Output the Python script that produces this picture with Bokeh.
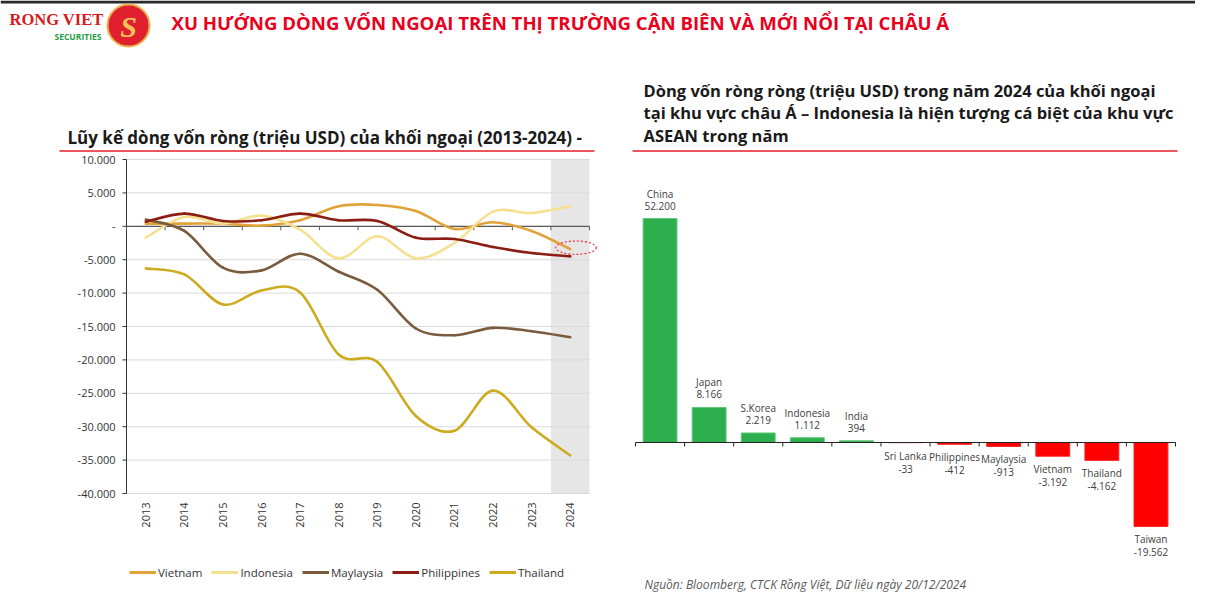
import math
from bokeh.plotting import figure
from bokeh.models import (Range1d, Legend, LegendItem, ColumnDataSource)
from bokeh.core.properties import value
from bokeh.embed import file_html
from bokeh.resources import INLINE

# ---------------- data ----------------
years = ["2013", "2014", "2015", "2016", "2017", "2018", "2019", "2020",
         "2021", "2022", "2023", "2024"]
vietnam = [400, 400, 400, 100, 900, 3000, 3200, 2300, -400, 600, -700, -3400]
indonesia = [-1700, 1400, 400, 1600, -500, -4800, -1500, -4800, -2500, 2200, 2000, 3000]
malaysia = [1000, -700, -6200, -6600, -4100, -6800, -9500, -15300, -16300, -15200, -15700, -16600]
philippines = [700, 1900, 800, 900, 1900, 900, 800, -1700, -1900, -3100, -4000, -4500]
thailand = [-6300, -7200, -11700, -9600, -9900, -19200, -20300, -28400, -30600, -24600, -30100, -34300]
series_names = ["Vietnam", "Indonesia", "Maylaysia", "Philippines", "Thailand"]
series_colors = ["#E2A23A", "#F4E08F", "#7B5B3D", "#8C1D12", "#CDAB1E"]
y_ticks = [10000, 5000, 0, -5000, -10000, -15000, -20000, -25000, -30000, -35000, -40000]

countries = ["China", "Japan", "S.Korea", "Indonesia", "India", "Sri Lanka",
             "Philippines", "Maylaysia", "Vietnam", "Thailand", "Taiwan"]
flows_2024 = [52200, 8166, 2219, 1112, 394, -33, -412, -913, -3192, -4162, -19562]

FONT = "Open Sans"

# ---------------- page geometry ----------------
OX, OY = 1, 1          # page position of the canvas
W, H = 1195, 592


def fmt(v):
    v = int(round(v))
    if v == 0:
        return "-"
    s = f"{abs(v):,}".replace(",", ".")
    return ("-" if v < 0 else "") + s


def smooth_bezier(ys):
    n = len(ys)
    xs = list(range(n))
    d = dict(x0=[], y0=[], x1=[], y1=[], cx0=[], cy0=[], cx1=[], cy1=[])
    for i in range(n - 1):
        ip = max(i - 1, 0)
        i2 = min(i + 2, n - 1)
        d["x0"].append(xs[i]); d["y0"].append(ys[i])
        d["x1"].append(xs[i + 1]); d["y1"].append(ys[i + 1])
        d["cx0"].append(xs[i] + (xs[i + 1] - xs[ip]) / 6)
        d["cy0"].append(ys[i] + (ys[i + 1] - ys[ip]) / 6)
        d["cx1"].append(xs[i + 1] - (xs[i2] - xs[i]) / 6)
        d["cy1"].append(ys[i + 1] - (ys[i2] - ys[i]) / 6)
    return d


def axis_range(p0, v0, p1, v1, lo, hi):
    """Range whose values map page pixel p0->v0 and p1->v1 across the canvas."""
    f = lambda p: v0 + (p - p0) * (v1 - v0) / (p1 - p0)
    a, b = f(lo), f(hi)
    return Range1d(min(a, b), max(a, b)), abs(p1 - p0) / abs(v1 - v0)


n = len(years)
m = len(countries)
lx, lx_ppu = axis_range(127, -0.5, 590, n - 0.5, OX, OX + W)
ly, ly_ppu = axis_range(160, max(y_ticks), 494, min(y_ticks), OY, OY + H)
rx, rx_ppu = axis_range(636, -0.5, 1176, m - 0.5, OX, OX + W)
ry, ry_ppu = axis_range(443, 0, 219, max(flows_2024), OY, OY + H)

p = figure(width=W, height=H, x_range=Range1d(OX, OX + W), y_range=Range1d(OY + H, OY),
           toolbar_location=None, output_backend="svg",
           x_axis_location=None, y_axis_location=None,
           min_border=0, outline_line_color=None)
p.grid.visible = False
p.extra_x_ranges = {"lx": lx, "rx": rx}
p.extra_y_ranges = {"ly": ly, "ry": ry}
L = dict(x_range_name="lx", y_range_name="ly")
R = dict(x_range_name="rx", y_range_name="ry")

# ---------------- header ----------------
p.segment(x0=[OX], y0=[2.5], x1=[OX + W], y1=[2.5], line_color="#2B2B2B", line_width=3)
p.text(x=[10], y=[20], text=["RONG VIET"], text_font=value("Liberation Serif"),
       text_font_style="bold", text_font_size="16.5px", text_color="#D71920",
       text_baseline="alphabetic")
p.text(x=[55], y=[37], text=["SECURITIES"], text_font=value(FONT),
       text_font_style="bold", text_font_size="8.5px", text_color="#1FA048",
       text_baseline="alphabetic")
p.scatter(x=[129], y=[26], size=42, marker="circle", fill_color="#E0202E",
          line_color="#E9B24E", line_width=2)
p.text(x=[129], y=[27], text=["S"], text_font=value("Liberation Serif"),
       text_font_style="bold italic", text_font_size="30px", text_color="#F2C45A",
       text_align="center", text_baseline="middle")
p.text(x=[172], y=[23],
       text=["XU HƯỚNG DÒNG VỐN NGOẠI TRÊN THỊ TRƯỜNG CẬN BIÊN VÀ MỚI NỔI TẠI CHÂU Á"],
       text_font=value(FONT), text_font_style="bold",
       text_font_size="18.6px", text_color="#E8001C", text_baseline="alphabetic")

# ---------------- titles ----------------
p.text(x=[68], y=[138],
       text=["Lũy kế dòng vốn ròng (triệu USD)  của khối ngoại (2013-2024) -"],
       text_font=value(FONT), text_font_style="bold", text_font_size="17px",
       text_color="#1A1A1A", text_baseline="alphabetic")
p.text(x=[644, 644, 644], y=[91, 113, 136],
       text=["Dòng vốn ròng ròng (triệu USD)  trong năm 2024 của khối ngoại",
             "tại khu vực châu Á – Indonesia là hiện tượng cá biệt của khu vực",
             "ASEAN trong năm"],
       text_font=value(FONT), text_font_style="bold", text_font_size="16.5px",
       text_color="#1A1A1A", text_baseline="alphabetic")
p.segment(x0=[60, 633], y0=[151.5, 151.5], x1=[595, 1178], y1=[151.5, 151.5],
          line_color="#E31E24", line_width=1.5)

# ---------------- left line chart ----------------
ytop, ybot = max(y_ticks), min(y_ticks)
p.quad(left=[n - 1.5], right=[n - 0.5], top=[ytop], bottom=[ybot],
       fill_color="#E6E6E6", line_color=None, **L)
p.segment(x0=[-0.5] * len(y_ticks), y0=y_ticks, x1=[n - 0.5] * len(y_ticks), y1=y_ticks,
          line_color="#D9D9D9", line_width=1, **L)
# y axis line, ticks and labels
p.segment(x0=[-0.5], y0=[ybot], x1=[-0.5], y1=[ytop], line_color="#333333", line_width=1, **L)
p.segment(x0=[-0.5 - 4 / lx_ppu] * len(y_ticks), y0=y_ticks,
          x1=[-0.5] * len(y_ticks), y1=y_ticks, line_color="#333333", line_width=1, **L)
p.text(x=[-0.5] * len(y_ticks), y=y_ticks, text=[fmt(t) for t in y_ticks], x_offset=-11,
       text_font=value(FONT), text_font_size="11px", text_color="#333333",
       text_align="right", text_baseline="middle", **L)
# zero axis with tick marks at category boundaries
bounds = [i - 0.5 for i in range(n + 1)]
p.segment(x0=[-0.5], y0=[0], x1=[n - 0.5], y1=[0], line_color="#595959", line_width=1.2, **L)
p.segment(x0=bounds, y0=[0] * len(bounds), x1=bounds, y1=[-4 / ly_ppu] * len(bounds),
          line_color="#595959", line_width=1, **L)
# category labels
p.text(x=list(range(n)), y=[ybot] * n, text=years, y_offset=9, angle=math.pi / 2,
       text_font=value(FONT), text_font_size="11px", text_color="#333333",
       text_align="right", text_baseline="middle", **L)

items = []
for name, ys, col in zip(series_names, [vietnam, indonesia, malaysia, philippines, thailand],
                         series_colors):
    p.bezier(source=ColumnDataSource(smooth_bezier(ys)), x0="x0", y0="y0",
             x1="x1", y1="y1", cx0="cx0", cy0="cy0", cx1="cx1", cy1="cy1",
             line_color=col, line_width=2.6, line_cap="round", **L)
    # single-point line: invisible on the chart, used only as the legend key
    key = p.line(x=[0], y=[ys[0]], line_color=col, line_width=3, **L)
    items.append(LegendItem(label=name, renderers=[key]))

p.ellipse(x=[n - 1 + 0.15], y=[vietnam[-1] + 200], width=1.05, height=2000,
          fill_color=None, line_color="#FF2A3A", line_dash="2 2", line_width=1.2, **L)

leg = Legend(items=items, orientation="horizontal",
             location=(130 - OX, (OY + H) - 581),
             glyph_width=27, glyph_height=12, label_height=16, label_standoff=2,
             spacing=9, padding=0, margin=0, border_line_color=None,
             background_fill_alpha=0, label_text_font=FONT,
             label_text_font_size="11.5px", label_text_color="#333333")
p.add_layout(leg)

# ---------------- right bar chart ----------------
idx = list(range(m))
bar_cols = ["#2EAF4D" if v >= 0 else "#FF0000" for v in flows_2024]
edge_cols = ["#63C678" if v >= 0 else "#FF2020" for v in flows_2024]
src = ColumnDataSource(dict(
    x=idx, top=flows_2024, fill=bar_cols, edge=edge_cols,
    name=countries, val=[fmt(v) for v in flows_2024],
    off_name=[-25 if v >= 0 else 13 for v in flows_2024],
    off_val=[-13 if v >= 0 else 26 for v in flows_2024],
))
p.vbar(x="x", top="top", bottom=0, width=0.69, fill_color="fill",
       line_color="edge", line_width=1, source=src, **R)
rb = [i - 0.5 for i in range(m + 1)]
p.segment(x0=[-0.5], y0=[0], x1=[m - 0.5], y1=[0], line_color="#222222", line_width=1.2, **R)
p.segment(x0=rb, y0=[0] * len(rb), x1=rb, y1=[-4 / ry_ppu] * len(rb),
          line_color="#222222", line_width=1, **R)
p.text(x="x", y="top", text="name", y_offset="off_name", source=src,
       text_font=value(FONT), text_font_size="10px", text_color="#404040",
       text_align="center", text_baseline="middle", **R)
p.text(x="x", y="top", text="val", y_offset="off_val", source=src,
       text_font=value(FONT), text_font_size="10px", text_color="#404040",
       text_align="center", text_baseline="middle", **R)

# ---------------- source note ----------------
p.text(x=[645], y=[593],
       text=["Nguồn: Bloomberg, CTCK Rồng Việt, Dữ liệu ngày 20/12/2024"],
       text_font=value(FONT), text_font_style="italic", text_font_size="12px",
       text_color="#595959", text_baseline="bottom")

open("out.html", "w").write(file_html(p, INLINE))
